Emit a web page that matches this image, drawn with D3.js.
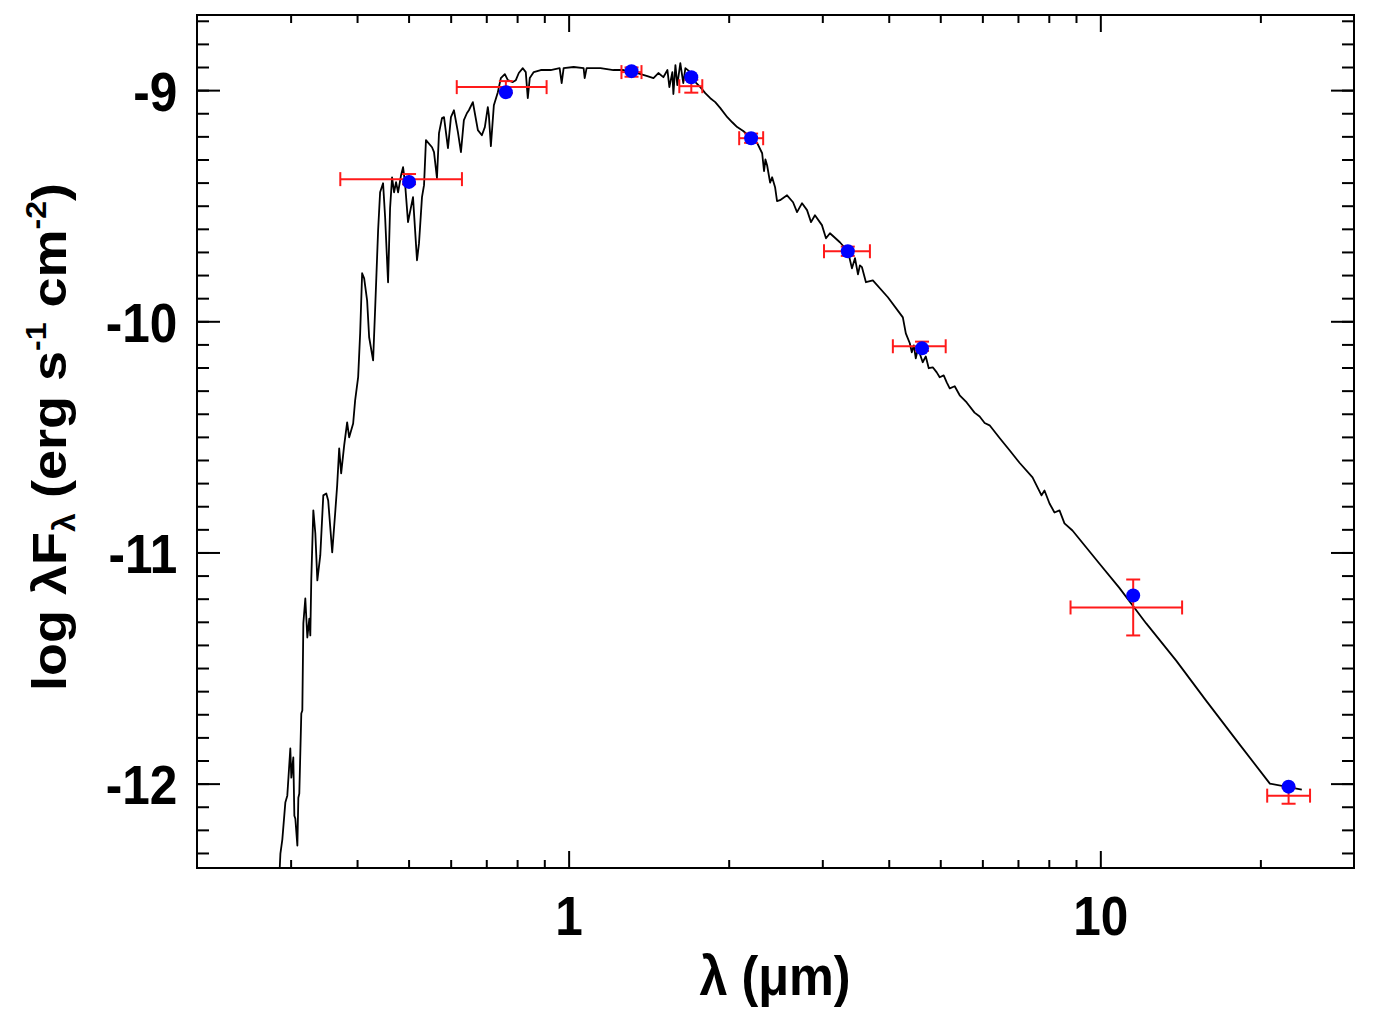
<!DOCTYPE html>
<html>
<head>
<meta charset="utf-8">
<script src="https://cdn.jsdelivr.net/npm/d3@7"></script>
<style>
  html, body { margin: 0; padding: 0; background: #fff; }
  svg { display: block; }
  text { font-family: "Liberation Sans", Arial, Helvetica, sans-serif; font-weight: bold; fill: #000; }
</style>
</head>
<body>
<svg id="chart" width="1373" height="1015"></svg>
<script>
// model spectrum: wavelength (micron) and log lambda*F_lambda
const modelWave = [
  0.2857, 0.2870, 0.2894, 0.2932, 0.2957, 0.2996, 0.3009, 0.3035, 0.3049, 0.3062,
  0.3089, 0.3102, 0.3115, 0.3142, 0.3156, 0.3170, 0.3197, 0.3225, 0.3253, 0.3267,
  0.3281, 0.3310, 0.3339, 0.3368, 0.3411, 0.3456, 0.3501, 0.3530, 0.3592, 0.3639,
  0.3670, 0.3702, 0.3734, 0.3783, 0.3832, 0.3866, 0.3933, 0.3967, 0.4019, 0.4054,
  0.4089, 0.4125, 0.4178, 0.4215, 0.4288, 0.4325, 0.4382, 0.4420, 0.4477, 0.4517,
  0.4555, 0.4575, 0.4615, 0.4655, 0.4696, 0.4736, 0.4778, 0.4840, 0.4882, 0.4924,
  0.4988, 0.5031, 0.5097, 0.5119, 0.5186, 0.5231, 0.5299, 0.5346, 0.5391, 0.5534,
  0.5582, 0.5654, 0.5704, 0.5778, 0.5829, 0.5930, 0.6007, 0.6085, 0.6191, 0.6273,
  0.6353, 0.6436, 0.6492, 0.6605, 0.6662, 0.6750, 0.6868, 0.6957, 0.7047, 0.7079,
  0.7141, 0.7234, 0.7360, 0.7456, 0.7586, 0.7686, 0.7852, 0.7956, 0.8059, 0.8200,
  0.8306, 0.8379, 0.8451, 0.8598, 0.8863, 0.9252, 0.9618, 0.9703, 0.9786, 1.022,
  1.067, 1.072, 1.081, 1.148, 1.214, 1.268, 1.347, 1.406, 1.444, 1.475,
  1.507, 1.534, 1.547, 1.567, 1.574, 1.588, 1.601, 1.622, 1.643, 1.658,
  1.694, 1.731, 1.769, 1.807, 1.847, 1.887, 1.929, 1.988, 2.031, 2.075,
  2.130, 2.263, 2.312, 2.331, 2.345, 2.362, 2.393, 2.414, 2.445, 2.466,
  2.498, 2.575, 2.643, 2.689, 2.748, 2.808, 2.857, 2.906, 2.995, 3.048,
  3.101, 3.237, 3.352, 3.411, 3.456, 3.501, 3.530, 3.562, 3.624, 3.734,
  3.985, 4.252, 4.307, 4.382, 4.420, 4.459, 4.497, 4.536, 4.575, 4.634,
  4.696, 4.757, 4.840, 4.924, 4.988, 5.075, 5.142, 5.209, 5.323, 5.439,
  5.606, 5.800, 5.930, 6.060, 6.191, 6.465, 6.750, 7.047, 7.456, 7.586,
  7.752, 7.852, 8.025, 8.200, 8.379, 8.562, 8.863, 9.957, 10.85, 11.58,
  12.20, 13.89, 15.81, 18.23, 20.84, 23.93
];
const modelFlux = [
  -12.400, -12.303, -12.242, -12.082, -12.052, -11.848, -11.974, -11.887, -12.139, -12.152,
  -12.268, -12.061, -12.043, -11.697, -11.684, -11.307, -11.199, -11.368, -11.286, -11.359,
  -11.113, -10.818, -10.918, -11.121, -11.013, -10.753, -10.745, -10.775, -11.000, -10.827,
  -10.710, -10.550, -10.658, -10.537, -10.437, -10.502, -10.442, -10.342, -10.242, -10.052,
  -9.792, -9.814, -9.909, -10.069, -10.169, -9.952, -9.606, -9.442, -9.403, -9.550,
  -9.736, -9.831, -9.511, -9.377, -9.442, -9.398, -9.442, -9.368, -9.333, -9.403,
  -9.571, -9.528, -9.463, -9.532, -9.736, -9.662, -9.463, -9.411, -9.216, -9.247,
  -9.268, -9.381, -9.186, -9.121, -9.117, -9.251, -9.117, -9.087, -9.182, -9.268,
  -9.130, -9.100, -9.087, -9.052, -9.100, -9.173, -9.195, -9.160, -9.074, -9.108,
  -9.242, -9.065, -9.009, -8.948, -8.931, -8.957, -8.965, -8.957, -8.926, -8.905,
  -8.922, -9.035, -8.948, -8.922, -8.913, -8.913, -8.905, -8.970, -8.905, -8.900,
  -8.905, -8.948, -8.905, -8.905, -8.913, -8.913, -8.926, -8.939, -8.948, -8.926,
  -8.944, -8.913, -8.987, -8.922, -9.017, -8.892, -8.978, -8.883, -8.970, -8.905,
  -8.922, -8.965, -8.987, -9.013, -9.035, -9.052, -9.078, -9.117, -9.139, -9.160,
  -9.177, -9.229, -9.273, -9.350, -9.300, -9.325, -9.400, -9.377, -9.420, -9.480,
  -9.476, -9.455, -9.485, -9.528, -9.489, -9.519, -9.571, -9.541, -9.584, -9.641,
  -9.619, -9.658, -9.697, -9.771, -9.727, -9.797, -9.758, -9.766, -9.831, -9.823,
  -9.896, -9.983, -10.052, -10.095, -10.134, -10.104, -10.160, -10.121, -10.139, -10.177,
  -10.152, -10.203, -10.199, -10.221, -10.242, -10.234, -10.264, -10.290, -10.281, -10.320,
  -10.351, -10.395, -10.412, -10.440, -10.450, -10.505, -10.558, -10.612, -10.675, -10.710,
  -10.753, -10.732, -10.788, -10.827, -10.818, -10.874, -10.905, -11.048, -11.152, -11.238,
  -11.307, -11.468, -11.641, -11.827, -12.000, -12.026
];

// photometry
const photWave = [0.501, 0.762, 1.313, 1.701, 2.204, 3.35, 4.62, 11.53, 22.6];
const photFlux = [-9.397, -9.009, -8.918, -8.944, -9.208, -9.697, -10.117, -11.186, -12.013];
const errCenter = [-9.385, -8.987, -8.922, -8.983, -9.208, -9.697, -10.108, -11.238, -12.052];
const errFlux = [0.022, 0.026, 0.020, 0.028, 0.020, 0.020, 0.020, 0.121, 0.035];
const errWaveLo = [0.372, 0.616, 1.257, 1.615, 2.093, 3.022, 4.072, 8.79, 20.6];
const errWaveHi = [0.630, 0.909, 1.371, 1.784, 2.322, 3.687, 5.119, 14.25, 24.8];

// axes
const xMajor = [1, 10];
const xMinor = [0.3, 0.4, 0.5, 0.6, 0.7, 0.8, 0.9, 2, 3, 4, 5, 6, 7, 8, 9, 20];
const yMajor = [-9, -10, -11, -12];
const yMinor = d3.range(-123, -86).map(function (d) { return d / 10; });

const W = 1373, H = 1015;
const margin = { top: 15, right: 19, bottom: 147, left: 197 };
const FONT = 55;
const SQUEEZE = 0.9;

const svg = d3.select('#chart');

const x = d3.scaleLog().domain([0.2, 30]).range([margin.left, W - margin.right]);
const y = d3.scaleLinear().domain([-12.365, -8.675]).range([H - margin.bottom, margin.top]);

svg.append('defs').append('clipPath').attr('id', 'plotclip')
  .append('rect')
  .attr('x', margin.left).attr('y', margin.top)
  .attr('width', W - margin.left - margin.right)
  .attr('height', H - margin.top - margin.bottom);

function styleTicks(g) {
  g.select('.domain').remove();
  g.selectAll('.tick line').attr('stroke', '#000').attr('stroke-width', 2);
  g.attr('font-family', null).attr('font-size', null);
}

// plain hyphen minus, like the original plot
function plainNum(d) { return String(d); }

// major + minor ticks on all four sides
svg.append('g')
  .attr('transform', 'translate(0,' + (H - margin.bottom) + ')')
  .call(d3.axisBottom(x).tickValues(xMinor).tickSizeInner(-8).tickSizeOuter(0).tickFormat(''))
  .call(styleTicks);
svg.append('g')
  .attr('transform', 'translate(0,' + (H - margin.bottom) + ')')
  .call(d3.axisBottom(x).tickValues(xMajor).tickSizeInner(-17).tickSizeOuter(0)
    .tickPadding(28).tickFormat(plainNum))
  .call(styleTicks)
  .call(function (g) {
    g.selectAll('text')
      .attr('font-size', FONT)
      .attr('transform', 'scale(' + SQUEEZE + ',1)');
  });

svg.append('g')
  .attr('transform', 'translate(0,' + margin.top + ')')
  .call(d3.axisTop(x).tickValues(xMinor).tickSizeInner(-8).tickSizeOuter(0).tickFormat(''))
  .call(styleTicks);
svg.append('g')
  .attr('transform', 'translate(0,' + margin.top + ')')
  .call(d3.axisTop(x).tickValues(xMajor).tickSizeInner(-17).tickSizeOuter(0).tickFormat(''))
  .call(styleTicks);

svg.append('g')
  .attr('transform', 'translate(' + margin.left + ',0)')
  .call(d3.axisLeft(y).tickValues(yMinor).tickSizeInner(-12).tickSizeOuter(0).tickFormat(''))
  .call(styleTicks);
svg.append('g')
  .attr('transform', 'translate(' + margin.left + ',0)')
  .call(d3.axisLeft(y).tickValues(yMajor).tickSizeInner(-23).tickSizeOuter(0)
    .tickPadding(22).tickFormat(plainNum))
  .call(styleTicks)
  .call(function (g) {
    g.selectAll('text')
      .attr('font-size', FONT)
      .attr('dy', '0.37em')
      .attr('transform', 'scale(' + SQUEEZE + ',1)');
  });

svg.append('g')
  .attr('transform', 'translate(' + (W - margin.right) + ',0)')
  .call(d3.axisRight(y).tickValues(yMinor).tickSizeInner(-12).tickSizeOuter(0).tickFormat(''))
  .call(styleTicks);
svg.append('g')
  .attr('transform', 'translate(' + (W - margin.right) + ',0)')
  .call(d3.axisRight(y).tickValues(yMajor).tickSizeInner(-23).tickSizeOuter(0).tickFormat(''))
  .call(styleTicks);

// model spectrum
const model = modelWave.map(function (w, i) { return [w, modelFlux[i]]; });
const line = d3.line()
  .x(function (d) { return x(d[0]); })
  .y(function (d) { return y(d[1]); });

svg.append('path')
  .datum(model)
  .attr('clip-path', 'url(#plotclip)')
  .attr('fill', 'none')
  .attr('stroke', '#000')
  .attr('stroke-width', 1.8)
  .attr('stroke-linejoin', 'round')
  .attr('d', line);

// error bars
const phot = photWave.map(function (w, i) {
  return { w: w, f: photFlux[i], c: errCenter[i], e: errFlux[i], lo: errWaveLo[i], hi: errWaveHi[i] };
});
const CAP = 7;
const eb = svg.append('g')
  .attr('stroke', '#ff1a1a')
  .attr('stroke-width', 2)
  .attr('fill', 'none');

phot.forEach(function (d) {
  const cy = y(d.c), x0 = x(d.lo), x1 = x(d.hi), cx = x(d.w);
  const y0 = y(d.c - d.e), y1 = y(d.c + d.e);
  eb.append('line').attr('x1', x0).attr('x2', x1).attr('y1', cy).attr('y2', cy);
  eb.append('line').attr('x1', x0).attr('x2', x0).attr('y1', cy - CAP).attr('y2', cy + CAP);
  eb.append('line').attr('x1', x1).attr('x2', x1).attr('y1', cy - CAP).attr('y2', cy + CAP);
  eb.append('line').attr('x1', cx).attr('x2', cx).attr('y1', y0).attr('y2', y1);
  eb.append('line').attr('x1', cx - CAP).attr('x2', cx + CAP).attr('y1', y0).attr('y2', y0);
  eb.append('line').attr('x1', cx - CAP).attr('x2', cx + CAP).attr('y1', y1).attr('y2', y1);
});

svg.append('g')
  .selectAll('circle')
  .data(phot)
  .join('circle')
  .attr('cx', function (d) { return x(d.w); })
  .attr('cy', function (d) { return y(d.f); })
  .attr('r', 7)
  .attr('fill', '#0000ff');

// frame
svg.append('rect')
  .attr('x', margin.left).attr('y', margin.top)
  .attr('width', W - margin.left - margin.right)
  .attr('height', H - margin.top - margin.bottom)
  .attr('fill', 'none')
  .attr('stroke', '#000')
  .attr('stroke-width', 2);

// axis titles
svg.append('text')
  .attr('transform', 'translate(775,995) scale(' + SQUEEZE + ',1)')
  .attr('text-anchor', 'middle')
  .attr('font-size', 56)
  .text('λ (μm)');

const yt = svg.append('text')
  .attr('transform', 'translate(66,437) scale(' + SQUEEZE + ',1) rotate(-90)')
  .attr('text-anchor', 'middle')
  .attr('font-size', 54);
yt.append('tspan').text('log λF');
yt.append('tspan').attr('font-size', 34).attr('dy', 10).text('λ');
yt.append('tspan').attr('dy', -10).text(' (erg s');
yt.append('tspan').attr('font-size', 32).attr('dy', -22).text('-1');
yt.append('tspan').attr('dy', 22).text(' cm');
yt.append('tspan').attr('font-size', 32).attr('dy', -22).text('-2');
yt.append('tspan').attr('dy', 22).text(')');
</script>
</body>
</html>
